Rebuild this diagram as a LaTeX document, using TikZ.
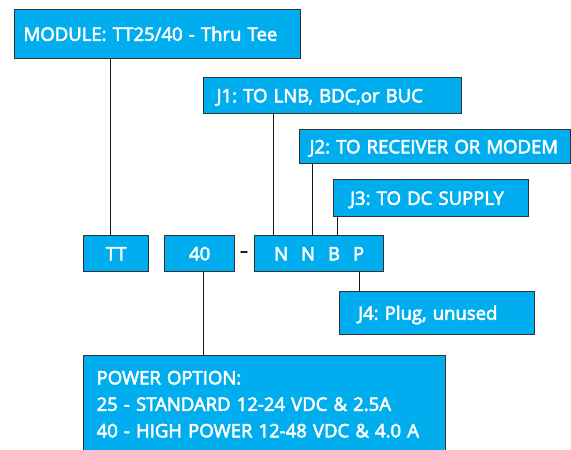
\documentclass[tikz,border=0pt]{standalone}
\usepackage{fontspec}
\setmainfont{Open Sans}[FakeBold=3]
\definecolor{cy}{HTML}{00AEEF}
\definecolor{bd}{HTML}{333333}
\frenchspacing
\hyphenpenalty=10000
\exhyphenpenalty=10000
\begin{document}
\begin{tikzpicture}[x=1pt,y=-1pt,
  box/.style={draw=bd, fill=cy, line width=1.3pt, rectangle, anchor=north west,
    text=white, font=\fontsize{18.5}{26.5}\selectfont, inner ysep=0pt,
    text height=13.3pt, text depth=0pt},
  lbox/.style={box, align=left},
  cbox/.style={box, inner xsep=0pt, align=center},
  conn/.style={draw=black!90, line width=1pt}]
\useasboundingbox (0,0) rectangle (571,450);

\node[lbox, inner xsep=9pt, text width=268pt, minimum height=49pt] (mod) at (14,9) {MODULE: TT25/40 - Thru Tee};
\node[lbox, inner xsep=13pt, text width=232pt, minimum height=36pt] (j1) at (203,77) {J1: TO LNB, BDC,or BUC};
\node[lbox, inner xsep=10pt, text width=251pt, minimum height=34pt] (j2) at (299,129) {J2: TO RECEIVER OR MODEM};
\node[lbox, inner xsep=16.5pt, text width=162pt, minimum height=37pt] (j3) at (333,179) {J3: TO DC SUPPLY};

\node[cbox, text width=65pt, minimum height=36pt] (tt) at (83,235) {TT};
\node[cbox, text width=70pt, minimum height=36pt] (opt) at (164,235) {40\hspace{3pt}};
\node[cbox, text width=129pt, minimum height=36pt] (code) at (254,235) {N\hspace{13pt}N\hspace{13pt}B\hspace{13pt}P};
\node[anchor=base, inner sep=0pt, font=\fontsize{15}{15}\selectfont, text=black] (dash) at (244,256) {–};

\node[lbox, inner xsep=18.5pt, text width=158pt, minimum height=43pt] (j4) at (339,291) {J4: Plug, unused};
\node[lbox, inner xsep=13pt, text width=336pt, minimum height=97pt, text height=13.3pt, text depth=53pt] (pwr) at (83,355)
  {POWER OPTION:\\25 - STANDARD 12-24 VDC \& 2.5A\\40 - HIGH POWER 12-48 VDC \& 4.0 A};

\coordinate (xa) at (110.7,0);
\coordinate (xb) at (273,0);
\coordinate (xc) at (312.7,0);
\coordinate (xd) at (337.7,0);
\coordinate (xe) at (359,0);
\coordinate (xf) at (203.7,0);

\draw[conn] (mod.south -| xa) -- (tt.north -| xa);
\draw[conn] (j1.south -| xb) -- (code.north -| xb);
\draw[conn] (j2.south -| xc) -- (code.north -| xc);
\draw[conn] (j3.south -| xd) -- (code.north -| xd);
\draw[conn] (code.south -| xe) -- (j4.north -| xe);
\draw[conn] (opt.south -| xf) -- (pwr.north -| xf);
\end{tikzpicture}
\end{document}
